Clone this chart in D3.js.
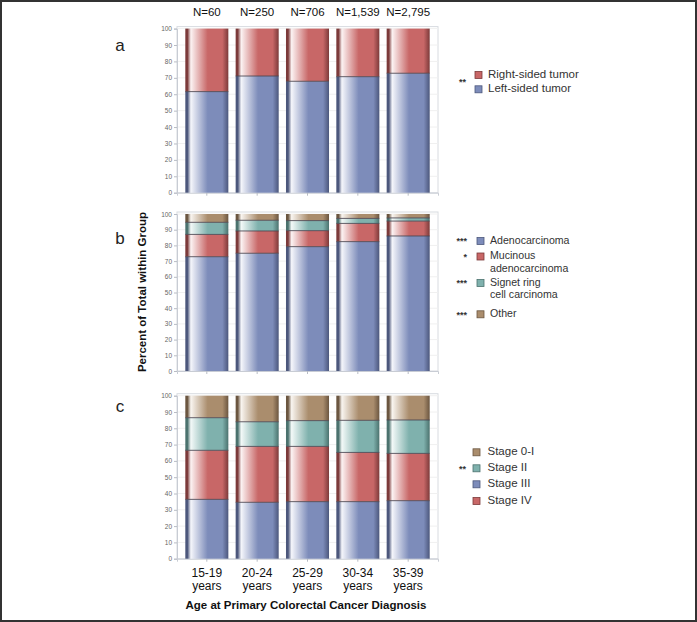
<!DOCTYPE html>
<html><head><meta charset="utf-8">
<script src="https://cdn.jsdelivr.net/npm/d3@7/dist/d3.min.js"></script>
<style>
body{margin:0;background:#fff;}
text{font-family:"Liberation Sans",Arial,sans-serif;}
</style></head>
<body>
<svg id="chart" width="697" height="622"></svg>
<script>
// ---------- data ----------
const ageLines1 = ["15-19","20-24","25-29","30-34","35-39"];
const ageLine2 = "years";
const nLabels = ["N=60","N=250","N=706","N=1,539","N=2,795"];
const yTicks = [0,10,20,30,40,50,60,70,80,90,100];

// panel a (bottom to top)
const leftSided  = [61.6, 71.1, 67.9, 70.7, 72.8];
const rightSided = [38.4, 28.9, 32.1, 29.3, 27.2];
// panel b
const adeno    = [72.8, 75.0, 79.2, 82.4, 86.0];
const mucinous = [14.2, 14.2, 10.2, 11.6, 9.5];
const signet   = [7.7, 6.8, 6.4, 3.2, 2.0];
const otherHist= [5.3, 4.0, 4.2, 2.8, 2.5];
// panel c
const stage3  = [36.4, 34.6, 35.0, 35.0, 35.6];
const stage4  = [30.1, 34.3, 33.9, 30.2, 29.0];
const stage2  = [20.0, 15.1, 15.8, 19.7, 20.5];
const stage01 = [13.5, 16.0, 15.3, 15.1, 14.9];

const palette = {
  blue:{base:"#7d8cba", dark:"#4c577c", light:"#f5f6fb"},
  red:{base:"#c86767", dark:"#7c3a3a", light:"#fcf3f3"},
  teal:{base:"#7fb1ad", dark:"#4b726e", light:"#f3f9f8"},
  tan:{base:"#aa8d6d", dark:"#6b5640", light:"#f9f5f0"}
};

const svg = d3.select("#chart");
const W = 697, H = 622;

svg.append("rect").attr("x",1).attr("y",1).attr("width",W-2).attr("height",H-2)
  .attr("fill","none").attr("stroke","#333").attr("stroke-width",2);

const defs = svg.append("defs");
Object.entries(palette).forEach(([k,c])=>{
  const g = defs.append("linearGradient").attr("id","g_"+k)
    .attr("x1","0%").attr("x2","100%").attr("y1","0%").attr("y2","0%");
  [[0,c.dark],[0.05,c.dark],[0.13,c.light],[0.52,c.base],[0.86,c.base],[1,c.dark]]
    .forEach(([o,col])=>g.append("stop").attr("offset",o*100+"%").attr("stop-color",col));
});

const plotL = 177, plotR = 438;
const x = d3.scaleBand().domain(d3.range(5)).range([plotL, plotR]).paddingInner(0.145).paddingOuter(0.165);

const panels = [
  {label:"a", top:28.6, bottom:192.7, series:[
    {vals:leftSided, color:"blue"},{vals:rightSided, color:"red"}]},
  {label:"b", top:214, bottom:371, series:[
    {vals:adeno,color:"blue"},{vals:mucinous,color:"red"},{vals:signet,color:"teal"},{vals:otherHist,color:"tan"}]},
  {label:"c", top:395.7, bottom:558.7, series:[
    {vals:stage3,color:"blue"},{vals:stage4,color:"red"},{vals:stage2,color:"teal"},{vals:stage01,color:"tan"}]}
];

const labelY = [47, 240, 408];

panels.forEach((p,pi)=>{
  const y = d3.scaleLinear().domain([0,100]).range([p.bottom, p.top]);
  const g = svg.append("g");
  g.append("rect").attr("x",plotL).attr("y",p.top-2).attr("width",plotR-plotL).attr("height",p.bottom-p.top+2)
    .attr("fill","none").attr("stroke","#d8dbe0").attr("stroke-width",1);
  g.selectAll(".grid").data(yTicks.slice(1)).join("line")
    .attr("x1",plotL).attr("x2",plotR).attr("y1",d=>y(d)).attr("y2",d=>y(d))
    .attr("stroke","#f0f0f0").attr("stroke-width",1);
  const ax = g.append("g").attr("transform",`translate(${plotL},0)`)
    .call(d3.axisLeft(y).tickValues(yTicks).tickSize(3).tickPadding(2));
  ax.select(".domain").attr("stroke","#c8ccd4");
  ax.selectAll(".tick line").attr("stroke","#b8bcc4");
  ax.selectAll(".tick text").attr("font-size",6.5).attr("fill","#666").attr("font-family","Liberation Sans, Arial, sans-serif");
  const xa = g.append("g").attr("transform",`translate(0,${p.bottom})`)
    .call(d3.axisBottom(x).tickSize(3).tickFormat(""));
  xa.select(".domain").attr("stroke","#c8ccd4");
  xa.selectAll(".tick line").attr("stroke","#b8bcc4");

  const rows = d3.range(5).map(i=>{const o={i}; p.series.forEach((s,k)=>o["s"+k]=s.vals[i]); return o;});
  const stack = d3.stack().keys(p.series.map((s,k)=>"s"+k))(rows);
  stack.forEach((layer,k)=>{
    const col = p.series[k].color;
    g.selectAll(null).data(layer).join("rect")
      .attr("x",d=>x(d.data.i)).attr("width",x.bandwidth())
      .attr("y",d=>y(d[1])).attr("height",d=>y(d[0])-y(d[1]))
      .attr("fill",`url(#g_${col})`);
  });
  stack.slice(0,-1).forEach(layer=>{
    g.selectAll(null).data(layer).join("line")
      .attr("x1",d=>x(d.data.i)).attr("x2",d=>x(d.data.i)+x.bandwidth())
      .attr("y1",d=>y(d[1])).attr("y2",d=>y(d[1]))
      .attr("stroke","#4a4550").attr("stroke-width",1).attr("opacity",0.85);
  });
  svg.append("text").attr("x",120).attr("y",labelY[pi]).attr("text-anchor","middle")
    .attr("dominant-baseline","middle").attr("font-size",17).attr("fill","#222").text(p.label);
});

svg.selectAll(".nlab").data(nLabels).join("text")
  .attr("x",(d,i)=>x(i)+x.bandwidth()/2).attr("y",13).attr("text-anchor","middle")
  .attr("dominant-baseline","middle").attr("font-size",11.5).attr("fill","#111").text(d=>d);

svg.selectAll(".xl1").data(ageLines1).join("text")
  .attr("x",(d,i)=>x(i)+x.bandwidth()/2).attr("y",574).attr("text-anchor","middle")
  .attr("dominant-baseline","middle").attr("font-size",12).attr("fill","#111").text(d=>d);
svg.selectAll(".xl2").data(ageLines1).join("text")
  .attr("x",(d,i)=>x(i)+x.bandwidth()/2).attr("y",587).attr("text-anchor","middle")
  .attr("dominant-baseline","middle").attr("font-size",12).attr("fill","#111").text(ageLine2);
svg.append("text").attr("x",306).attr("y",606).attr("text-anchor","middle")
  .attr("dominant-baseline","middle").attr("font-size",11.5).attr("font-weight","bold").attr("fill","#111")
  .text("Age at Primary Colorectal Cancer Diagnosis");
svg.append("text").attr("transform","translate(143,292) rotate(-90)").attr("text-anchor","middle")
  .attr("dominant-baseline","middle").attr("font-size",11.5).attr("font-weight","bold").attr("fill","#111")
  .text("Percent of Total within Group");

const legends = [
  {sw:475, tx:488, star:466, fs:11.5, items:[
    {lines:["Right-sided tumor"], y:75, color:"red", star:""},
    {lines:["Left-sided tumor"], y:89.3, color:"blue", star:""}], starText:"**", starY:82},
  {sw:477, tx:490, star:467, fs:10.6, items:[
    {lines:["Adenocarcinoma"], y:241, color:"blue", star:"***"},
    {lines:["Mucinous","adenocarcinoma"], y:256.5, color:"red", star:"*"},
    {lines:["Signet ring","cell carcinoma"], y:283, color:"teal", star:"***"},
    {lines:["Other"], y:314.3, color:"tan", star:"***"}]},
  {sw:473, tx:487.5, star:466, fs:11.5, items:[
    {lines:["Stage 0-I"], y:452.3, color:"tan", star:""},
    {lines:["Stage II"], y:468.3, color:"teal", star:"**"},
    {lines:["Stage III"], y:484.3, color:"blue", star:""},
    {lines:["Stage IV"], y:501, color:"red", star:""}]}
];
legends.forEach(L=>{
  L.items.forEach(it=>{
    const c = palette[it.color];
    svg.append("rect").attr("x",L.sw).attr("y",it.y-3.5).attr("width",7).attr("height",7)
      .attr("fill",c.base).attr("stroke",c.dark).attr("stroke-width",0.8);
    it.lines.forEach((ln,j)=>{
      svg.append("text").attr("x",L.tx).attr("y",it.y+j*12.4).attr("dominant-baseline","middle")
        .attr("font-size",L.fs).attr("fill","#333").text(ln);
    });
    if(it.star){
      svg.append("text").attr("x",L.star).attr("y",it.y+1).attr("text-anchor","end")
        .attr("dominant-baseline","middle").attr("font-size",9).attr("font-weight","bold").attr("fill","#333").text(it.star);
    }
  });
  if(L.starText){
    svg.append("text").attr("x",L.star).attr("y",L.starY+1).attr("text-anchor","end")
      .attr("dominant-baseline","middle").attr("font-size",9).attr("font-weight","bold").attr("fill","#333").text(L.starText);
  }
});
</script>
</body></html>
